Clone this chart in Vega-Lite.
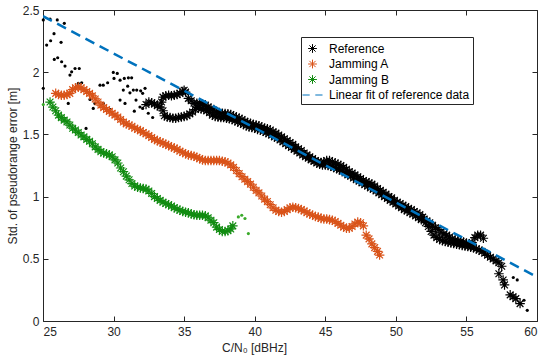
{
  "$schema": "https://vega.github.io/schema/vega-lite/v6.json",
  "width": 494,
  "height": 311,
  "autosize": {"type": "none"},
  "padding": {"left": 43, "top": 10, "right": 13, "bottom": 40},
  "background": "white",
  "datasets": {
    "fit": [{"x": 25, "y": 2.45}, {"x": 60, "y": 0.354}],
    "ref": [
      {"x":32.3,"y":1.74},{"x":32.5,"y":1.76},{"x":32.7,"y":1.755},{"x":32.9,"y":1.745},{"x":33.1,"y":1.73},{"x":33.3,"y":1.72},{"x":33.4,"y":1.76},{"x":33.5,"y":1.69},
      {"x":33.5,"y":1.80},{"x":33.7,"y":1.81},{"x":33.9,"y":1.815},{"x":34.1,"y":1.81},{"x":34.3,"y":1.815},{"x":34.5,"y":1.82},{"x":34.7,"y":1.83},{"x":34.9,"y":1.845},{"x":35.0,"y":1.855},{"x":35.1,"y":1.84},{"x":35.3,"y":1.79},{"x":35.5,"y":1.77},{"x":35.7,"y":1.75},{"x":35.9,"y":1.75},{"x":36.1,"y":1.75},{"x":36.3,"y":1.745},{"x":36.5,"y":1.735},{"x":36.7,"y":1.72},{"x":36.9,"y":1.71},{"x":37.1,"y":1.695},{"x":37.3,"y":1.68},{"x":37.5,"y":1.675},{"x":37.7,"y":1.67},{"x":37.9,"y":1.668},{"x":38.1,"y":1.665},{"x":38.3,"y":1.66},{"x":38.5,"y":1.65},{"x":38.7,"y":1.64},{"x":38.9,"y":1.63},{"x":39.1,"y":1.62},{"x":39.3,"y":1.605},{"x":39.5,"y":1.595},{"x":39.7,"y":1.59},{"x":39.9,"y":1.58},{"x":40.1,"y":1.575},{"x":40.3,"y":1.57},{"x":40.5,"y":1.56},{"x":40.7,"y":1.55},{"x":40.9,"y":1.545},{"x":41.1,"y":1.535},{"x":41.3,"y":1.52},{"x":41.5,"y":1.51},{"x":41.7,"y":1.495},{"x":41.9,"y":1.48},{"x":42.1,"y":1.465},{"x":42.3,"y":1.45},{"x":42.5,"y":1.435},{"x":42.7,"y":1.42},{"x":42.9,"y":1.40},{"x":43.1,"y":1.385},{"x":43.3,"y":1.37},{"x":43.5,"y":1.35},{"x":43.7,"y":1.335},{"x":43.9,"y":1.32},{"x":44.1,"y":1.305},{"x":44.3,"y":1.29},{"x":44.5,"y":1.28},{"x":44.7,"y":1.275},{"x":44.9,"y":1.28},{"x":45.1,"y":1.29},{"x":45.3,"y":1.29},{"x":45.5,"y":1.28},{"x":45.7,"y":1.27},{"x":45.9,"y":1.26},{"x":46.1,"y":1.25},{"x":46.3,"y":1.235},{"x":46.5,"y":1.22},{"x":46.7,"y":1.20},{"x":46.9,"y":1.19},{"x":47.1,"y":1.175},{"x":47.3,"y":1.16},{"x":47.5,"y":1.145},{"x":47.7,"y":1.13},{"x":47.9,"y":1.12},{"x":48.1,"y":1.11},{"x":48.3,"y":1.10},{"x":48.5,"y":1.085},{"x":48.7,"y":1.065},{"x":48.9,"y":1.05},{"x":49.1,"y":1.035},{"x":49.3,"y":1.02},{"x":49.5,"y":1.00},{"x":49.7,"y":0.99},{"x":49.9,"y":0.97},{"x":50.1,"y":0.955},{"x":50.3,"y":0.945},{"x":50.5,"y":0.93},{"x":50.7,"y":0.92},{"x":50.9,"y":0.905},{"x":51.1,"y":0.895},{"x":51.3,"y":0.88},{"x":51.5,"y":0.87},{"x":51.7,"y":0.855},{"x":51.9,"y":0.835},{"x":52.0,"y":0.82},{"x":52.2,"y":0.805},{"x":52.4,"y":0.79},{"x":52.6,"y":0.77},{"x":52.8,"y":0.75},{"x":53.0,"y":0.735},{"x":53.2,"y":0.715},{"x":53.4,"y":0.70},{"x":53.6,"y":0.69},{"x":53.8,"y":0.675},{"x":54.0,"y":0.66},{"x":54.2,"y":0.65},{"x":54.4,"y":0.645},{"x":54.6,"y":0.64},{"x":54.8,"y":0.635},{"x":55.0,"y":0.625},{"x":55.2,"y":0.615},{"x":55.4,"y":0.63},{"x":55.6,"y":0.67},{"x":55.8,"y":0.69},{"x":56.0,"y":0.69},{"x":56.2,"y":0.665},
      {"x":33.6,"y":1.65},{"x":33.8,"y":1.64},{"x":34.0,"y":1.635},{"x":34.2,"y":1.63},{"x":34.4,"y":1.63},{"x":34.6,"y":1.635},{"x":34.8,"y":1.64},{"x":35.0,"y":1.645},{"x":35.2,"y":1.65},{"x":35.4,"y":1.665},{"x":35.6,"y":1.68},{"x":35.8,"y":1.70},{"x":36.0,"y":1.715},
      {"x":36.2,"y":1.705},{"x":36.4,"y":1.70},{"x":36.6,"y":1.69},{"x":36.8,"y":1.675},{"x":37.0,"y":1.655},{"x":37.2,"y":1.645},{"x":37.4,"y":1.64},{"x":37.6,"y":1.635},{"x":37.8,"y":1.635},{"x":38.0,"y":1.63},{"x":38.2,"y":1.625},{"x":38.4,"y":1.62},{"x":38.6,"y":1.61},{"x":38.8,"y":1.60},{"x":39.0,"y":1.59},{"x":39.2,"y":1.58},{"x":39.4,"y":1.57},{"x":39.6,"y":1.56},{"x":39.8,"y":1.555},{"x":40.0,"y":1.55},{"x":40.2,"y":1.54},{"x":40.4,"y":1.535},{"x":40.6,"y":1.525},{"x":40.8,"y":1.515},{"x":41.0,"y":1.505},{"x":41.2,"y":1.495},{"x":41.4,"y":1.48},{"x":41.6,"y":1.47},{"x":41.8,"y":1.455},{"x":42.0,"y":1.44},{"x":42.2,"y":1.425},{"x":42.4,"y":1.41},{"x":42.6,"y":1.395},{"x":42.8,"y":1.38},{"x":43.0,"y":1.365},{"x":43.2,"y":1.35},{"x":43.4,"y":1.335},{"x":43.6,"y":1.32},{"x":43.8,"y":1.31},{"x":44.0,"y":1.295},{"x":44.2,"y":1.285},{"x":44.4,"y":1.27},{"x":44.6,"y":1.26},{"x":44.8,"y":1.255},{"x":45.0,"y":1.255},{"x":45.2,"y":1.25},{"x":45.4,"y":1.245},{"x":45.6,"y":1.235},{"x":45.8,"y":1.225},{"x":46.0,"y":1.215},{"x":46.2,"y":1.205},{"x":46.4,"y":1.19},{"x":46.6,"y":1.175},{"x":46.8,"y":1.165},{"x":47.0,"y":1.15},{"x":47.2,"y":1.135},{"x":47.4,"y":1.125},{"x":47.6,"y":1.11},{"x":47.8,"y":1.095},{"x":48.0,"y":1.085},{"x":48.2,"y":1.07},{"x":48.4,"y":1.06},{"x":48.6,"y":1.045},{"x":48.8,"y":1.03},{"x":49.0,"y":1.015},{"x":49.2,"y":1.00},{"x":49.4,"y":0.985},{"x":49.6,"y":0.97},{"x":49.8,"y":0.955},{"x":50.0,"y":0.94},{"x":50.2,"y":0.925},{"x":50.4,"y":0.91},{"x":50.6,"y":0.895},{"x":50.8,"y":0.885},{"x":51.0,"y":0.87},{"x":51.2,"y":0.86},{"x":51.4,"y":0.845},{"x":51.6,"y":0.83},{"x":51.8,"y":0.815},{"x":52.1,"y":0.79},{"x":52.3,"y":0.76},{"x":52.5,"y":0.72},{"x":52.7,"y":0.69},{"x":52.9,"y":0.67},{"x":53.1,"y":0.655},{"x":53.3,"y":0.645},{"x":53.5,"y":0.64},{"x":53.7,"y":0.633},{"x":53.9,"y":0.628},{"x":54.1,"y":0.623},{"x":54.3,"y":0.618},{"x":54.5,"y":0.613},{"x":54.7,"y":0.608},{"x":54.9,"y":0.603},{"x":55.1,"y":0.598},{"x":55.3,"y":0.593},{"x":55.5,"y":0.588},{"x":55.7,"y":0.58},{"x":55.9,"y":0.57},{"x":56.1,"y":0.56},{"x":56.3,"y":0.545},{"x":56.5,"y":0.528},{"x":56.7,"y":0.513},{"x":56.9,"y":0.498},{"x":57.1,"y":0.483},{"x":57.3,"y":0.468},{"x":57.5,"y":0.44},
      {"x":57.3,"y":0.38},{"x":57.6,"y":0.33},{"x":57.7,"y":0.29},{"x":58.1,"y":0.21},{"x":58.3,"y":0.195},{"x":58.5,"y":0.18},{"x":58.8,"y":0.14}
    ],
    "refdots": [
      {"x":25.02,"y":2.42},{"x":25.5,"y":2.427},{"x":26.01,"y":2.42},{"x":26.51,"y":2.393},{"x":25.78,"y":2.31},{"x":25.54,"y":2.253},{"x":25.26,"y":2.218},{"x":26.28,"y":2.24},{"x":25.8,"y":2.103},{"x":26.04,"y":2.116},{"x":26.32,"y":2.084},{"x":26.56,"y":2.049},{"x":27.03,"y":2.003},{"x":27.27,"y":2.03},{"x":27.57,"y":2.03},{"x":26.91,"y":1.977},{"x":27.5,"y":1.91},{"x":27.74,"y":1.915},{"x":25.02,"y":1.87},{"x":29.04,"y":1.896},{"x":29.27,"y":1.896},{"x":29.58,"y":1.915},{"x":29.98,"y":1.998},{"x":30.26,"y":1.99},{"x":30.03,"y":1.95},{"x":30.46,"y":1.936},{"x":30.76,"y":1.95},{"x":31.05,"y":1.955},{"x":31.28,"y":1.955},{"x":31.0,"y":1.888},{"x":30.69,"y":1.856},{"x":31.4,"y":1.856},{"x":31.64,"y":1.856},{"x":31.92,"y":1.85},{"x":31.16,"y":1.834},{"x":28.33,"y":1.781},{"x":28.68,"y":1.749},{"x":29.27,"y":1.749},{"x":28.56,"y":1.709},{"x":29.75,"y":1.7},{"x":30.46,"y":1.776},{"x":30.81,"y":1.749},{"x":31.59,"y":1.776},{"x":31.47,"y":1.687},{"x":31.87,"y":1.72},{"x":32.77,"y":1.636},{"x":26.79,"y":1.749},{"x":28.05,"y":1.548},{"x":32.23,"y":1.87},{"x":32.06,"y":1.83},{"x":32.46,"y":1.67},{"x":32.06,"y":1.709},
      {"x":58.32,"y":0.35},{"x":58.6,"y":0.33},{"x":59.08,"y":0.167},{"x":59.31,"y":0.086}
    ],
    "jamA": [
      {"x":25.9,"y":1.83},{"x":26.1,"y":1.82},{"x":26.3,"y":1.815},{"x":26.5,"y":1.815},{"x":26.7,"y":1.82},{"x":26.9,"y":1.83},{"x":27.1,"y":1.86},{"x":27.3,"y":1.875},{"x":27.5,"y":1.88},{"x":27.7,"y":1.875},{"x":27.9,"y":1.86},{"x":28.1,"y":1.845},{"x":28.3,"y":1.83},{"x":28.5,"y":1.81},{"x":28.7,"y":1.785},{"x":28.9,"y":1.76},{"x":29.1,"y":1.735},{"x":29.3,"y":1.715},{"x":29.5,"y":1.7},{"x":29.7,"y":1.685},{"x":29.9,"y":1.67},{"x":30.1,"y":1.655},{"x":30.3,"y":1.64},{"x":30.5,"y":1.62},{"x":30.7,"y":1.6},{"x":30.9,"y":1.585},{"x":31.1,"y":1.575},{"x":31.3,"y":1.565},{"x":31.5,"y":1.55},{"x":31.7,"y":1.54},{"x":31.9,"y":1.53},{"x":32.1,"y":1.515},{"x":32.3,"y":1.505},{"x":32.5,"y":1.49},{"x":32.7,"y":1.475},{"x":32.9,"y":1.46},{"x":33.1,"y":1.45},{"x":33.3,"y":1.44},{"x":33.5,"y":1.43},{"x":33.7,"y":1.42},{"x":33.9,"y":1.41},{"x":34.1,"y":1.4},{"x":34.3,"y":1.39},{"x":34.5,"y":1.38},{"x":34.7,"y":1.365},{"x":34.9,"y":1.355},{"x":35.1,"y":1.345},{"x":35.3,"y":1.335},{"x":35.5,"y":1.33},{"x":35.7,"y":1.325},{"x":35.9,"y":1.315},{"x":36.1,"y":1.305},{"x":36.3,"y":1.295},{"x":36.5,"y":1.29},{"x":36.7,"y":1.29},{"x":36.9,"y":1.29},{"x":37.1,"y":1.29},{"x":37.3,"y":1.29},{"x":37.5,"y":1.29},{"x":37.7,"y":1.285},{"x":37.9,"y":1.28},{"x":38.1,"y":1.27},{"x":38.3,"y":1.255},{"x":38.5,"y":1.235},{"x":38.7,"y":1.21},{"x":38.9,"y":1.185},{"x":39.1,"y":1.16},{"x":39.3,"y":1.14},{"x":39.5,"y":1.12},{"x":39.7,"y":1.1},{"x":39.9,"y":1.075},{"x":40.1,"y":1.05},{"x":40.3,"y":1.03},{"x":40.5,"y":1.005},{"x":40.7,"y":0.98},{"x":40.9,"y":0.96},{"x":41.1,"y":0.935},{"x":41.3,"y":0.91},{"x":41.5,"y":0.89},{"x":41.7,"y":0.88},{"x":41.9,"y":0.875},{"x":42.1,"y":0.88},{"x":42.3,"y":0.895},{"x":42.5,"y":0.91},{"x":42.7,"y":0.915},{"x":42.9,"y":0.91},{"x":43.1,"y":0.905},{"x":43.3,"y":0.895},{"x":43.5,"y":0.885},{"x":43.7,"y":0.87},{"x":43.9,"y":0.86},{"x":44.1,"y":0.85},{"x":44.3,"y":0.84},{"x":44.5,"y":0.835},{"x":44.7,"y":0.825},{"x":44.9,"y":0.82},{"x":45.1,"y":0.82},{"x":45.3,"y":0.815},{"x":45.5,"y":0.81},{"x":45.7,"y":0.8},{"x":45.9,"y":0.785},{"x":46.1,"y":0.77},{"x":46.3,"y":0.755},{"x":46.5,"y":0.745},{"x":46.7,"y":0.745},{"x":46.9,"y":0.76},{"x":47.1,"y":0.78},{"x":47.3,"y":0.795},{"x":47.5,"y":0.79},{"x":47.7,"y":0.765},{"x":47.9,"y":0.69},{"x":48.1,"y":0.66},{"x":48.3,"y":0.62},{"x":48.5,"y":0.59},{"x":48.7,"y":0.56},{"x":48.85,"y":0.53}
    ],
    "jamB": [
      {"x":25.5,"y":1.76},{"x":25.7,"y":1.72},{"x":25.9,"y":1.69},{"x":26.1,"y":1.655},{"x":26.3,"y":1.635},{"x":26.5,"y":1.615},{"x":26.7,"y":1.6},{"x":26.9,"y":1.575},{"x":27.1,"y":1.55},{"x":27.3,"y":1.535},{"x":27.5,"y":1.515},{"x":27.7,"y":1.495},{"x":27.9,"y":1.48},{"x":28.1,"y":1.46},{"x":28.3,"y":1.445},{"x":28.5,"y":1.425},{"x":28.7,"y":1.4},{"x":28.9,"y":1.38},{"x":29.1,"y":1.36},{"x":29.3,"y":1.35},{"x":29.5,"y":1.345},{"x":29.7,"y":1.335},{"x":29.9,"y":1.32},{"x":30.1,"y":1.295},{"x":30.3,"y":1.27},{"x":30.5,"y":1.23},{"x":30.7,"y":1.2},{"x":30.9,"y":1.165},{"x":31.1,"y":1.135},{"x":31.3,"y":1.105},{"x":31.5,"y":1.085},{"x":31.7,"y":1.075},{"x":31.9,"y":1.07},{"x":32.1,"y":1.065},{"x":32.3,"y":1.06},{"x":32.5,"y":1.045},{"x":32.7,"y":1.025},{"x":32.9,"y":1.0},{"x":33.1,"y":0.985},{"x":33.3,"y":0.97},{"x":33.5,"y":0.955},{"x":33.7,"y":0.945},{"x":33.9,"y":0.935},{"x":34.1,"y":0.925},{"x":34.3,"y":0.91},{"x":34.5,"y":0.9},{"x":34.7,"y":0.89},{"x":34.9,"y":0.88},{"x":35.1,"y":0.875},{"x":35.3,"y":0.87},{"x":35.5,"y":0.86},{"x":35.7,"y":0.855},{"x":35.9,"y":0.85},{"x":36.1,"y":0.85},{"x":36.3,"y":0.85},{"x":36.5,"y":0.845},{"x":36.7,"y":0.83},{"x":36.9,"y":0.81},{"x":37.1,"y":0.79},{"x":37.3,"y":0.755},{"x":37.5,"y":0.735},{"x":37.7,"y":0.72},{"x":37.9,"y":0.72},{"x":38.1,"y":0.725},{"x":38.3,"y":0.74},{"x":38.45,"y":0.765}
    ],
    "jamBdots": [
      {"x":25.02,"y":1.74},{"x":38.84,"y":0.837},{"x":39.08,"y":0.85},{"x":39.31,"y":0.824},{"x":39.55,"y":0.703}
    ]
  },
  "layer": [
    {
      "data": {"name": "refdots"},
      "mark": {"type": "circle", "size": 10, "opacity": 1, "color": "#000000"},
      "encoding": {
        "x": {"field": "x", "type": "quantitative", "scale": {"domain": [25, 60], "nice": false, "zero": false},
              "axis": {"orient": "bottom", "values": [25,30,35,40,45,50,55,60], "title": "C/N₀ [dBHz]", "labelPadding": 10, "titlePadding": 5, "titleX": 211}},
        "y": {"field": "y", "type": "quantitative", "scale": {"domain": [0, 2.5], "nice": false, "zero": false},
              "axis": {"orient": "left", "values": [0,0.5,1,1.5,2,2.5], "format": "~g", "title": "Std. of pseudorange error [m]", "labelPadding": 9, "titlePadding": 3}}
      }
    },
    {
      "data": {"name": "ref"},
      "mark": {"type": "point", "filled": false, "size": 300, "strokeWidth": 1.2, "opacity": 1},
      "encoding": {
        "x": {"field": "x", "type": "quantitative", "axis": {"orient": "top", "values": [25,30,35,40,45,50,55,60], "labels": false, "title": null}},
        "y": {"field": "y", "type": "quantitative", "axis": {"orient": "right", "values": [0,0.5,1,1.5,2,2.5], "labels": false, "title": null}},
        "color": {
          "datum": "Reference",
          "scale": {"domain": ["Reference", "Jamming A", "Jamming B", "Linear fit of reference data"], "range": ["#000000", "#D95319", "#118C11", "#0072BD"]},
          "legend": {
            "orient": "none", "legendX": 258, "legendY": 27, "title": null,
            "strokeColor": "#262626", "fillColor": "white", "padding": 3,
            "labelFontSize": 12, "labelColor": "#000000", "labelOffset": 8,
            "symbolSize": 256, "symbolStrokeWidth": 1, "symbolFillColor": "transparent", "rowPadding": 0.5,
            "encode": {"symbols": {"update": {"strokeWidth": {"signal": "datum.label === 'Linear fit of reference data' ? 2.5 : 1"}}}}
          }
        },
        "shape": {
          "datum": "Reference",
          "scale": {"domain": ["Reference", "Jamming A", "Jamming B", "Linear fit of reference data"],
                    "range": ["M-0.55,0L0.55,0M0,-0.55L0,0.55M-0.39,-0.39L0.39,0.39M-0.39,0.39L0.39,-0.39",
                              "M-0.55,0L0.55,0M0,-0.55L0,0.55M-0.39,-0.39L0.39,0.39M-0.39,0.39L0.39,-0.39",
                              "M-0.55,0L0.55,0M0,-0.55L0,0.55M-0.39,-0.39L0.39,0.39M-0.39,0.39L0.39,-0.39",
                              "M-1.25,0L-0.35,0M0.35,0L1.25,0"]}
        }
      }
    },
    {
      "data": {"name": "jamA"},
      "mark": {"type": "point", "filled": false, "size": 300, "strokeWidth": 1.2, "opacity": 1},
      "encoding": {
        "x": {"field": "x", "type": "quantitative", "axis": null},
        "y": {"field": "y", "type": "quantitative", "axis": null},
        "color": {"datum": "Jamming A"},
        "shape": {"datum": "Jamming A"}
      }
    },
    {
      "data": {"name": "jamB"},
      "mark": {"type": "point", "filled": false, "size": 300, "strokeWidth": 1.2, "opacity": 1},
      "encoding": {
        "x": {"field": "x", "type": "quantitative", "axis": null},
        "y": {"field": "y", "type": "quantitative", "axis": null},
        "color": {"datum": "Jamming B"},
        "shape": {"datum": "Jamming B"}
      }
    },
    {
      "data": {"name": "jamBdots"},
      "mark": {"type": "circle", "size": 10, "opacity": 1, "color": "#3BAA2B"},
      "encoding": {
        "x": {"field": "x", "type": "quantitative", "axis": null},
        "y": {"field": "y", "type": "quantitative", "axis": null}
      }
    },
    {
      "data": {"name": "fit"},
      "mark": {"type": "line", "strokeWidth": 2.5, "strokeDash": [10, 6], "clip": true},
      "encoding": {
        "x": {"field": "x", "type": "quantitative", "axis": null},
        "y": {"field": "y", "type": "quantitative", "axis": null},
        "color": {"datum": "Linear fit of reference data"}
      }
    }
  ],
  "resolve": {"axis": {"x": "independent", "y": "independent"}},
  "config": {
    "font": "Liberation Sans",
    "view": {"stroke": "#262626", "strokeWidth": 1},
    "axis": {
      "grid": false, "domain": false, "tickColor": "#262626", "tickSize": -5, "tickWidth": 1,
      "labelColor": "#262626", "labelFontSize": 12, "labelFont": "Liberation Sans",
      "titleFont": "Liberation Sans", "titleFontSize": 12, "titleFontWeight": "normal", "titleColor": "#262626"
    },
    "legend": {"labelFont": "Liberation Sans"}
  }
}
